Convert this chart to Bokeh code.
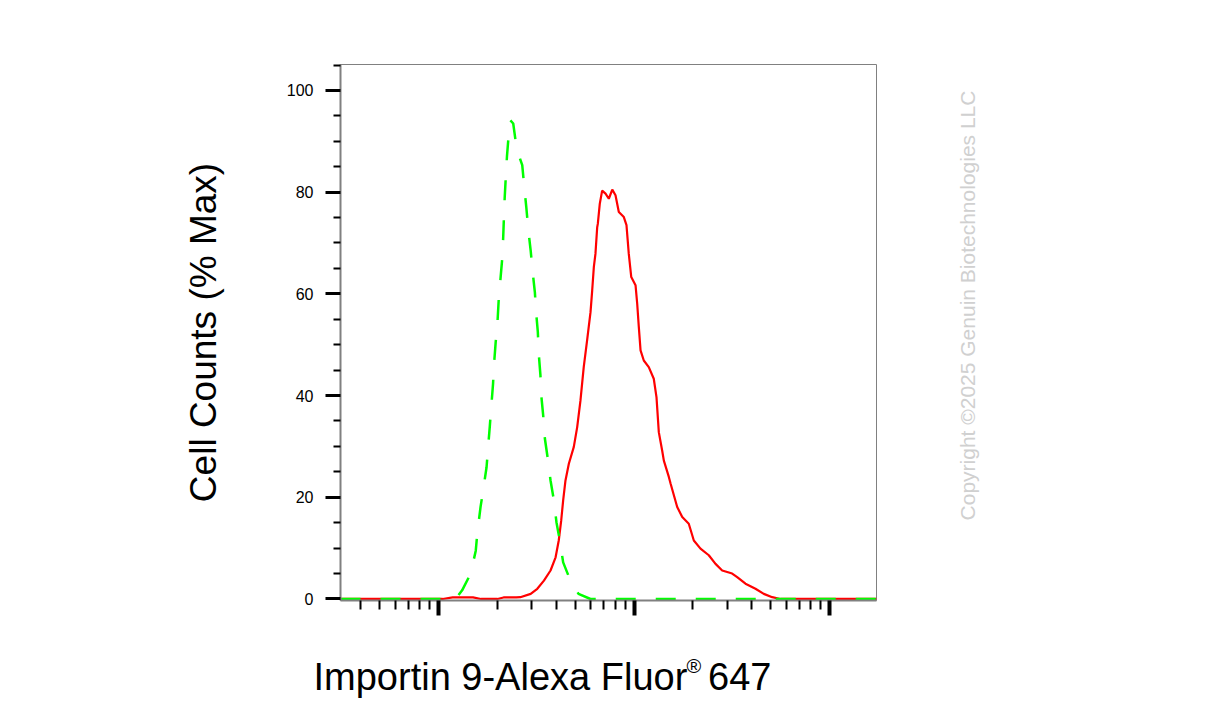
import math
from bokeh.plotting import figure
from bokeh.models import FixedTicker, Range1d, Label
from bokeh.layouts import column, row
from bokeh.embed import file_html
from bokeh.resources import INLINE

# ---- data (fluorescence intensity, % of max) ----
sample_intensity = [31.5, 105, 118, 150, 165, 200, 215, 250, 262, 296, 320, 346, 374, 397, 412,
                    424, 434, 446, 464, 492, 512, 532, 553, 576, 599, 611, 623, 635, 648, 653,
                    668, 687, 715, 743, 774, 804, 836, 887, 915, 940, 968, 1018, 1038, 1058,
                    1080, 1122, 1190, 1262, 1303, 1339, 1393, 1421, 1507, 1538, 1663, 1765,
                    1906, 2023, 2188, 2413, 2612, 2825, 3178, 3371, 3718, 4183, 4613, 5093,
                    5612, 17400]
sample_pct = [0, 0, 0.3, 0.3, 0, 0, 0.3, 0.3, 0.35, 1.0, 2.0, 3.6, 5.6, 8.2, 11.5,
              15.4, 19.4, 23.3, 26.6, 29.9, 33.8, 39.0, 45.6, 51.0, 56.4, 60.7, 65.3, 67.9, 73.1, 73.8,
              77.7, 80.3, 79.7, 78.7, 80.5, 79.4, 76.1, 75.1, 73.5, 67.9, 63.3, 61.7, 58.1, 53.5,
              48.9, 46.9, 45.6, 43.3, 39.7, 32.8, 29.2, 27.2, 24.0, 22.7, 18.1, 16.1,
              14.8, 11.5, 9.9, 8.6, 6.9, 5.6, 5.0, 4.3, 3.0, 2.0, 1.0, 0.35,
              0, 0]

control_intensity = [31.5, 122, 132, 146, 155, 158, 164, 169, 176, 179, 183, 186, 190, 192, 196,
                     200, 203, 207, 212, 214, 216, 218, 221, 224, 229, 233, 241, 251, 268, 275,
                     281, 288, 296, 303, 311, 316, 322, 326, 332, 336, 343, 350, 362, 374, 389,
                     401, 417, 434, 473, 520, 599, 17400]
control_pct = [0, 0, 1.7, 5.0, 9.5, 13.1, 18.1, 21.3, 25.9, 29.5, 34.1, 37.7, 42.3, 45.9, 50.5,
               54.1, 58.7, 62.6, 67.2, 70.8, 75.1, 79.0, 83.3, 87.2, 91.8, 94.1, 93.5, 88.5, 85.3, 80.7,
               77.1, 72.5, 68.5, 64.3, 60.3, 56.1, 52.5, 47.9, 44.0, 39.7, 36.1, 31.5, 27.6, 23.3, 19.4,
               15.1, 11.5, 7.2, 3.6, 1.0, 0, 0]

y_major_ticks = [0, 20, 40, 60, 80, 100]
y_minor_ticks = [5, 10, 15, 25, 30, 35, 45, 50, 55, 65, 70, 75, 85, 90, 95, 105]
x_decades = [100, 1000, 10000]
x_minor_ticks = [m * d for d in [10, 100, 1000] for m in range(2, 10)]

x_title = "Importin 9-Alexa Fluor"
x_title_mark = "\u00ae"
x_title_tail = "647"
y_title = "Cell Counts (% Max)"
watermark = "Copyright \u00a92025 Genuin Biotechnologies LLC"

FONT = "Liberation Sans"

# ---- main plot ----
p = figure(width=940, height=630, x_axis_type="log",
           x_range=Range1d(31.5, 17400), y_range=Range1d(-0.3, 105.1),
           output_backend="svg", toolbar_location=None,
           min_border_left=340, min_border_right=64,
           min_border_top=64, min_border_bottom=30)
p.grid.visible = False
p.outline_line_color = "#808080"
p.outline_line_width = 1

xa = p.xaxis[0]
xa.ticker = FixedTicker(ticks=x_decades, minor_ticks=x_minor_ticks)
xa.major_label_overrides = {d: "" for d in x_decades}
xa.major_label_text_font_size = "1px"
xa.major_label_standoff = 0
xa.axis_line_color = "#808080"
xa.axis_line_width = 2
xa.major_tick_line_color = "black"
xa.major_tick_line_width = 4
xa.major_tick_out = 15
xa.major_tick_in = 0
xa.minor_tick_line_color = "black"
xa.minor_tick_line_width = 2
xa.minor_tick_out = 9
xa.minor_tick_in = 0

ya = p.yaxis[0]
ya.ticker = FixedTicker(ticks=y_major_ticks, minor_ticks=y_minor_ticks)
ya.axis_line_color = "#808080"
ya.axis_line_width = 2
ya.major_tick_line_color = "black"
ya.major_tick_line_width = 3
ya.major_tick_out = 15
ya.major_tick_in = 0
ya.minor_tick_line_color = "black"
ya.minor_tick_line_width = 2
ya.minor_tick_out = 7
ya.minor_tick_in = 0
ya.major_label_text_font = FONT
ya.major_label_text_font_size = "16px"
ya.major_label_text_color = "black"
ya.major_label_standoff = 12
ya.axis_label = y_title
ya.axis_label_text_font = FONT
ya.axis_label_text_font_size = "37px"
ya.axis_label_text_font_style = "normal"
ya.axis_label_text_color = "black"
ya.axis_label_standoff = 60

p.line(sample_intensity, sample_pct, line_color="#ff0000", line_width=2.2)
p.line(control_intensity, control_pct, line_color="#00ff00", line_width=2.5, line_dash="20 20")


def blank(width, height):
    f = figure(width=width, height=height, x_range=Range1d(0, 1), y_range=Range1d(0, 1),
               output_backend="svg", toolbar_location=None, min_border=0)
    f.axis.visible = False
    f.grid.visible = False
    f.outline_line_color = None
    return f


# ---- watermark panel (right) ----
pw = blank(265, 630)
pw.add_layout(Label(x=27, y=295, x_units="screen", y_units="screen", text=watermark,
                    angle=math.pi / 2, text_font=FONT, text_font_size="21px",
                    text_color="#d0d0d0", text_align="center", text_baseline="middle"))

# ---- x title panel (bottom) ----
pt = blank(1205, 75)
pt.add_layout(Label(x=313, y=29, x_units="screen", y_units="screen", text=x_title,
                    text_font=FONT, text_font_size="38px", text_color="black",
                    text_align="left", text_baseline="alphabetic"))
pt.add_layout(Label(x=686, y=40, x_units="screen", y_units="screen", text=x_title_mark,
                    text_font=FONT, text_font_size="20px", text_color="black",
                    text_align="left", text_baseline="alphabetic"))
pt.add_layout(Label(x=771, y=29, x_units="screen", y_units="screen", text=x_title_tail,
                    text_font=FONT, text_font_size="38px", text_color="black",
                    text_align="right", text_baseline="alphabetic"))

layout = column(row(p, pw), pt)
open("out.html", "w").write(file_html(layout, INLINE))
